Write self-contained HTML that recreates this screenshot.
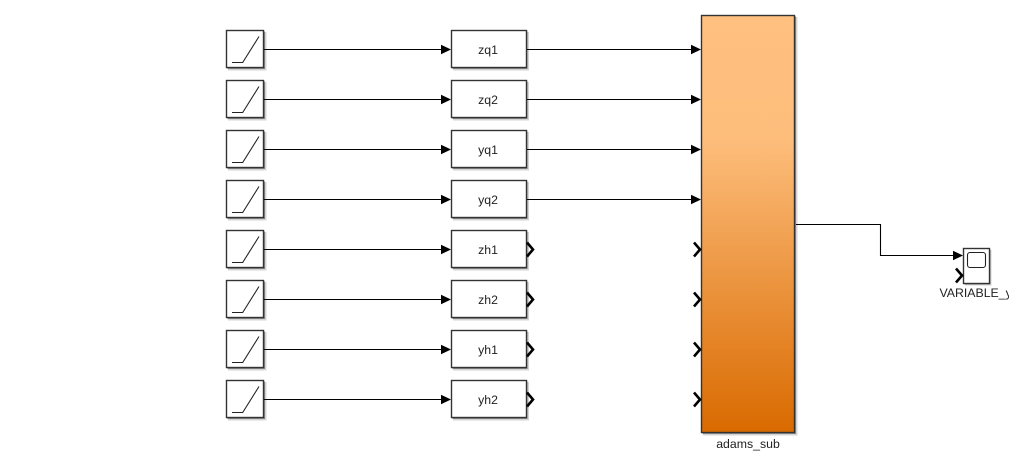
<!DOCTYPE html>
<html>
<head>
<meta charset="utf-8">
<style>
html,body{margin:0;padding:0;background:#fff;width:1009px;height:451px;overflow:hidden}
svg{display:block}
text{font-family:"Liberation Sans",sans-serif;font-size:12.3px;fill:#222;text-anchor:middle}
.b{fill:#fff;stroke:#333;stroke-width:1.4}
.s{fill:#d4d4d4}
.t{fill:#8a8a8a}
.w{stroke:#000;stroke-width:1.1;fill:none}
.r{stroke:#222;stroke-width:1.1;fill:none}
.c{stroke:#000;stroke-width:2.6;fill:none}
</style>
</head>
<body>
<svg width="1009" height="451" viewBox="0 0 1009 451" xmlns="http://www.w3.org/2000/svg">
<defs>
<linearGradient id="g" x1="0" y1="0" x2="0" y2="1">
<stop offset="0" stop-color="#ffc080"/>
<stop offset="0.3" stop-color="#fdbd7b"/>
<stop offset="1" stop-color="#d96a00"/>
</linearGradient>
<g id="ramp">
<rect class="s" x="228" y="32" width="38.5" height="38.5"/>
<rect class="t" x="227.5" y="31.5" width="37.5" height="37.5"/>
<rect class="b" x="226.5" y="30.5" width="37" height="37"/>
<path class="r" d="M232 62.5H242.7L259 36.5"/>
</g>
<g id="row">
<path class="w" d="M264 49.5H442"/>
<path d="M441 44.7L451 49.5L441 54.3Z" fill="#000"/>
<rect class="s" x="453" y="32" width="76" height="38.5"/>
<rect class="t" x="452.5" y="31.5" width="75" height="37.5"/>
<rect class="b" x="451.5" y="30.5" width="75" height="37"/>
</g>
<g id="wire2">
<path class="w" d="M527 49.5H692"/>
<path d="M691 44.7L701 49.5L691 54.3Z" fill="#000"/>
</g>
<path id="outc" class="c" d="M527 242.5L533 249.5L527 256.5"/>
<path id="inc" class="c" d="M694 242.5L700 249.5L694 256.5"/>
</defs>

<use href="#ramp"/>
<use href="#ramp" y="50"/>
<use href="#ramp" y="100"/>
<use href="#ramp" y="150"/>
<use href="#ramp" y="200"/>
<use href="#ramp" y="250"/>
<use href="#ramp" y="300"/>
<use href="#ramp" y="350"/>

<use href="#row"/>
<use href="#row" y="50"/>
<use href="#row" y="100"/>
<use href="#row" y="150"/>
<use href="#row" y="200"/>
<use href="#row" y="250"/>
<use href="#row" y="300"/>
<use href="#row" y="350"/>

<use href="#wire2"/>
<use href="#wire2" y="50"/>
<use href="#wire2" y="100"/>
<use href="#wire2" y="150"/>

<use href="#outc"/>
<use href="#outc" y="50"/>
<use href="#outc" y="100"/>
<use href="#outc" y="150"/>

<text x="488" y="54">zq1</text>
<text x="488" y="104">zq2</text>
<text x="488" y="154">yq1</text>
<text x="488" y="204">yq2</text>
<text x="488" y="254">zh1</text>
<text x="488" y="304">zh2</text>
<text x="488" y="354">yh1</text>
<text x="488" y="404">yh2</text>

<rect class="s" x="703" y="17" width="94.5" height="418.5"/>
<rect class="t" x="702.5" y="16.5" width="93.5" height="417.5"/>
<rect x="701.5" y="15.5" width="93" height="417" fill="url(#g)" stroke="#333" stroke-width="1.4"/>
<use href="#inc"/>
<use href="#inc" y="50"/>
<use href="#inc" y="100"/>
<use href="#inc" y="150"/>
<text x="748" y="448">adams_sub</text>

<path class="w" d="M796 224.5H880.5V255.5H955"/>
<path d="M953 250.7L963 255.5L953 260.3Z" fill="#000"/>
<rect class="s" x="965" y="250" width="26.5" height="35.5"/>
<rect class="t" x="964.5" y="249.5" width="26" height="35"/>
<rect class="b" x="963.5" y="248.5" width="26" height="35"/>
<rect x="967.5" y="252.5" width="18" height="15" rx="2.5" fill="#fff" stroke="#222" stroke-width="1.1"/>
<path class="c" d="M956 268.5L962 275.5L956 282.5"/>
<text x="939.5" y="297" style="text-anchor:start">VARIABLE_y</text>
</svg>
</body>
</html>
